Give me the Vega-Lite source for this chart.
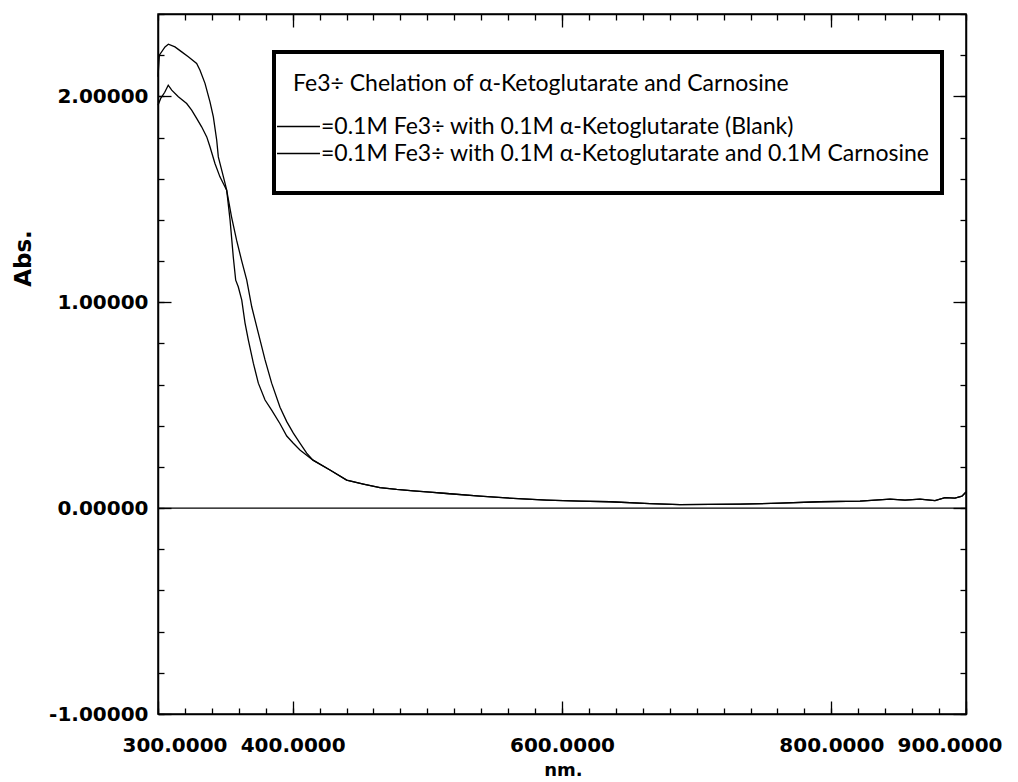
{
  "$schema": "https://vega.github.io/schema/vega-lite/v6.json",
  "width": 808,
  "height": 700,
  "autosize": {"type": "none"},
  "padding": {"left": 158, "top": 14, "right": 52, "bottom": 68},
  "background": "white",
  "config": {
    "view": {"stroke": "black", "strokeWidth": 1.5},
    "axis": {"grid": false, "domainColor": "black", "domainWidth": 1.5, "tickColor": "black", "tickWidth": 1.3, "labelColor": "black", "titleColor": "black", "labelFont": "DejaVu Sans", "labelFontWeight": "bold", "labelFontSize": 20, "titleFont": "DejaVu Sans", "titleFontWeight": "bold", "labelOverlap": false}
  },
  "data": {
    "values": [
      {"nm": 300.0, "abs": 2.095, "s": "=0.1M Fe3÷ with 0.1M α-Ketoglutarate and 0.1M Carnosine"},
      {"nm": 301.0, "abs": 2.20, "s": "=0.1M Fe3÷ with 0.1M α-Ketoglutarate and 0.1M Carnosine"},
      {"nm": 305.2, "abs": 2.24, "s": "=0.1M Fe3÷ with 0.1M α-Ketoglutarate and 0.1M Carnosine"},
      {"nm": 307.7, "abs": 2.253, "s": "=0.1M Fe3÷ with 0.1M α-Ketoglutarate and 0.1M Carnosine"},
      {"nm": 312.6, "abs": 2.24, "s": "=0.1M Fe3÷ with 0.1M α-Ketoglutarate and 0.1M Carnosine"},
      {"nm": 317.6, "abs": 2.216, "s": "=0.1M Fe3÷ with 0.1M α-Ketoglutarate and 0.1M Carnosine"},
      {"nm": 322.5, "abs": 2.192, "s": "=0.1M Fe3÷ with 0.1M α-Ketoglutarate and 0.1M Carnosine"},
      {"nm": 328.7, "abs": 2.16, "s": "=0.1M Fe3÷ with 0.1M α-Ketoglutarate and 0.1M Carnosine"},
      {"nm": 331.2, "abs": 2.127, "s": "=0.1M Fe3÷ with 0.1M α-Ketoglutarate and 0.1M Carnosine"},
      {"nm": 334.9, "abs": 2.063, "s": "=0.1M Fe3÷ with 0.1M α-Ketoglutarate and 0.1M Carnosine"},
      {"nm": 338.6, "abs": 1.973, "s": "=0.1M Fe3÷ with 0.1M α-Ketoglutarate and 0.1M Carnosine"},
      {"nm": 341.1, "abs": 1.90, "s": "=0.1M Fe3÷ with 0.1M α-Ketoglutarate and 0.1M Carnosine"},
      {"nm": 343.6, "abs": 1.787, "s": "=0.1M Fe3÷ with 0.1M α-Ketoglutarate and 0.1M Carnosine"},
      {"nm": 344.8, "abs": 1.706, "s": "=0.1M Fe3÷ with 0.1M α-Ketoglutarate and 0.1M Carnosine"},
      {"nm": 347.3, "abs": 1.642, "s": "=0.1M Fe3÷ with 0.1M α-Ketoglutarate and 0.1M Carnosine"},
      {"nm": 349.8, "abs": 1.577, "s": "=0.1M Fe3÷ with 0.1M α-Ketoglutarate and 0.1M Carnosine"},
      {"nm": 351.0, "abs": 1.544, "s": "=0.1M Fe3÷ with 0.1M α-Ketoglutarate and 0.1M Carnosine"},
      {"nm": 353.5, "abs": 1.40, "s": "=0.1M Fe3÷ with 0.1M α-Ketoglutarate and 0.1M Carnosine"},
      {"nm": 355.9, "abs": 1.22, "s": "=0.1M Fe3÷ with 0.1M α-Ketoglutarate and 0.1M Carnosine"},
      {"nm": 357.7, "abs": 1.107, "s": "=0.1M Fe3÷ with 0.1M α-Ketoglutarate and 0.1M Carnosine"},
      {"nm": 359.6, "abs": 1.075, "s": "=0.1M Fe3÷ with 0.1M α-Ketoglutarate and 0.1M Carnosine"},
      {"nm": 362.2, "abs": 1.01, "s": "=0.1M Fe3÷ with 0.1M α-Ketoglutarate and 0.1M Carnosine"},
      {"nm": 364.6, "abs": 0.90, "s": "=0.1M Fe3÷ with 0.1M α-Ketoglutarate and 0.1M Carnosine"},
      {"nm": 367.1, "abs": 0.816, "s": "=0.1M Fe3÷ with 0.1M α-Ketoglutarate and 0.1M Carnosine"},
      {"nm": 370.8, "abs": 0.704, "s": "=0.1M Fe3÷ with 0.1M α-Ketoglutarate and 0.1M Carnosine"},
      {"nm": 374.5, "abs": 0.607, "s": "=0.1M Fe3÷ with 0.1M α-Ketoglutarate and 0.1M Carnosine"},
      {"nm": 379.5, "abs": 0.525, "s": "=0.1M Fe3÷ with 0.1M α-Ketoglutarate and 0.1M Carnosine"},
      {"nm": 384.4, "abs": 0.476, "s": "=0.1M Fe3÷ with 0.1M α-Ketoglutarate and 0.1M Carnosine"},
      {"nm": 390.6, "abs": 0.41, "s": "=0.1M Fe3÷ with 0.1M α-Ketoglutarate and 0.1M Carnosine"},
      {"nm": 395.6, "abs": 0.35, "s": "=0.1M Fe3÷ with 0.1M α-Ketoglutarate and 0.1M Carnosine"},
      {"nm": 400.5, "abs": 0.315, "s": "=0.1M Fe3÷ with 0.1M α-Ketoglutarate and 0.1M Carnosine"},
      {"nm": 405.4, "abs": 0.282, "s": "=0.1M Fe3÷ with 0.1M α-Ketoglutarate and 0.1M Carnosine"},
      {"nm": 410.4, "abs": 0.257, "s": "=0.1M Fe3÷ with 0.1M α-Ketoglutarate and 0.1M Carnosine"},
      {"nm": 415.1, "abs": 0.233, "s": "=0.1M Fe3÷ with 0.1M α-Ketoglutarate and 0.1M Carnosine"},
      {"nm": 427.7, "abs": 0.185, "s": "=0.1M Fe3÷ with 0.1M α-Ketoglutarate and 0.1M Carnosine"},
      {"nm": 440.1, "abs": 0.136, "s": "=0.1M Fe3÷ with 0.1M α-Ketoglutarate and 0.1M Carnosine"},
      {"nm": 452.5, "abs": 0.117, "s": "=0.1M Fe3÷ with 0.1M α-Ketoglutarate and 0.1M Carnosine"},
      {"nm": 464.8, "abs": 0.10, "s": "=0.1M Fe3÷ with 0.1M α-Ketoglutarate and 0.1M Carnosine"},
      {"nm": 477.2, "abs": 0.091, "s": "=0.1M Fe3÷ with 0.1M α-Ketoglutarate and 0.1M Carnosine"},
      {"nm": 489.6, "abs": 0.084, "s": "=0.1M Fe3÷ with 0.1M α-Ketoglutarate and 0.1M Carnosine"},
      {"nm": 502.0, "abs": 0.078, "s": "=0.1M Fe3÷ with 0.1M α-Ketoglutarate and 0.1M Carnosine"},
      {"nm": 514.4, "abs": 0.071, "s": "=0.1M Fe3÷ with 0.1M α-Ketoglutarate and 0.1M Carnosine"},
      {"nm": 539.1, "abs": 0.058, "s": "=0.1M Fe3÷ with 0.1M α-Ketoglutarate and 0.1M Carnosine"},
      {"nm": 563.8, "abs": 0.047, "s": "=0.1M Fe3÷ with 0.1M α-Ketoglutarate and 0.1M Carnosine"},
      {"nm": 588.6, "abs": 0.039, "s": "=0.1M Fe3÷ with 0.1M α-Ketoglutarate and 0.1M Carnosine"},
      {"nm": 613.4, "abs": 0.034, "s": "=0.1M Fe3÷ with 0.1M α-Ketoglutarate and 0.1M Carnosine"},
      {"nm": 635.6, "abs": 0.031, "s": "=0.1M Fe3÷ with 0.1M α-Ketoglutarate and 0.1M Carnosine"},
      {"nm": 665.3, "abs": 0.022, "s": "=0.1M Fe3÷ with 0.1M α-Ketoglutarate and 0.1M Carnosine"},
      {"nm": 687.6, "abs": 0.017, "s": "=0.1M Fe3÷ with 0.1M α-Ketoglutarate and 0.1M Carnosine"},
      {"nm": 732.2, "abs": 0.019, "s": "=0.1M Fe3÷ with 0.1M α-Ketoglutarate and 0.1M Carnosine"},
      {"nm": 761.9, "abs": 0.024, "s": "=0.1M Fe3÷ with 0.1M α-Ketoglutarate and 0.1M Carnosine"},
      {"nm": 791.6, "abs": 0.031, "s": "=0.1M Fe3÷ with 0.1M α-Ketoglutarate and 0.1M Carnosine"},
      {"nm": 821.3, "abs": 0.034, "s": "=0.1M Fe3÷ with 0.1M α-Ketoglutarate and 0.1M Carnosine"},
      {"nm": 843.6, "abs": 0.044, "s": "=0.1M Fe3÷ with 0.1M α-Ketoglutarate and 0.1M Carnosine"},
      {"nm": 854.7, "abs": 0.039, "s": "=0.1M Fe3÷ with 0.1M α-Ketoglutarate and 0.1M Carnosine"},
      {"nm": 865.8, "abs": 0.044, "s": "=0.1M Fe3÷ with 0.1M α-Ketoglutarate and 0.1M Carnosine"},
      {"nm": 877.0, "abs": 0.036, "s": "=0.1M Fe3÷ with 0.1M α-Ketoglutarate and 0.1M Carnosine"},
      {"nm": 884.4, "abs": 0.051, "s": "=0.1M Fe3÷ with 0.1M α-Ketoglutarate and 0.1M Carnosine"},
      {"nm": 891.8, "abs": 0.049, "s": "=0.1M Fe3÷ with 0.1M α-Ketoglutarate and 0.1M Carnosine"},
      {"nm": 897.0, "abs": 0.058, "s": "=0.1M Fe3÷ with 0.1M α-Ketoglutarate and 0.1M Carnosine"},
      {"nm": 900.0, "abs": 0.078, "s": "=0.1M Fe3÷ with 0.1M α-Ketoglutarate and 0.1M Carnosine"},

      {"nm": 300.0, "abs": 1.957, "s": "=0.1M Fe3÷ with 0.1M α-Ketoglutarate (Blank)"},
      {"nm": 302.0, "abs": 1.99, "s": "=0.1M Fe3÷ with 0.1M α-Ketoglutarate (Blank)"},
      {"nm": 305.0, "abs": 2.02, "s": "=0.1M Fe3÷ with 0.1M α-Ketoglutarate (Blank)"},
      {"nm": 307.6, "abs": 2.054, "s": "=0.1M Fe3÷ with 0.1M α-Ketoglutarate (Blank)"},
      {"nm": 310.2, "abs": 2.03, "s": "=0.1M Fe3÷ with 0.1M α-Ketoglutarate (Blank)"},
      {"nm": 315.1, "abs": 1.998, "s": "=0.1M Fe3÷ with 0.1M α-Ketoglutarate (Blank)"},
      {"nm": 321.3, "abs": 1.965, "s": "=0.1M Fe3÷ with 0.1M α-Ketoglutarate (Blank)"},
      {"nm": 325.0, "abs": 1.933, "s": "=0.1M Fe3÷ with 0.1M α-Ketoglutarate (Blank)"},
      {"nm": 328.7, "abs": 1.893, "s": "=0.1M Fe3÷ with 0.1M α-Ketoglutarate (Blank)"},
      {"nm": 332.4, "abs": 1.852, "s": "=0.1M Fe3÷ with 0.1M α-Ketoglutarate (Blank)"},
      {"nm": 336.2, "abs": 1.803, "s": "=0.1M Fe3÷ with 0.1M α-Ketoglutarate (Blank)"},
      {"nm": 338.6, "abs": 1.755, "s": "=0.1M Fe3÷ with 0.1M α-Ketoglutarate (Blank)"},
      {"nm": 342.3, "abs": 1.674, "s": "=0.1M Fe3÷ with 0.1M α-Ketoglutarate (Blank)"},
      {"nm": 346.0, "abs": 1.609, "s": "=0.1M Fe3÷ with 0.1M α-Ketoglutarate (Blank)"},
      {"nm": 348.5, "abs": 1.577, "s": "=0.1M Fe3÷ with 0.1M α-Ketoglutarate (Blank)"},
      {"nm": 351.0, "abs": 1.544, "s": "=0.1M Fe3÷ with 0.1M α-Ketoglutarate (Blank)"},
      {"nm": 354.6, "abs": 1.415, "s": "=0.1M Fe3÷ with 0.1M α-Ketoglutarate (Blank)"},
      {"nm": 358.4, "abs": 1.30, "s": "=0.1M Fe3÷ with 0.1M α-Ketoglutarate (Blank)"},
      {"nm": 362.2, "abs": 1.20, "s": "=0.1M Fe3÷ with 0.1M α-Ketoglutarate (Blank)"},
      {"nm": 365.9, "abs": 1.107, "s": "=0.1M Fe3÷ with 0.1M α-Ketoglutarate (Blank)"},
      {"nm": 369.6, "abs": 0.978, "s": "=0.1M Fe3÷ with 0.1M α-Ketoglutarate (Blank)"},
      {"nm": 374.5, "abs": 0.85, "s": "=0.1M Fe3÷ with 0.1M α-Ketoglutarate (Blank)"},
      {"nm": 379.5, "abs": 0.72, "s": "=0.1M Fe3÷ with 0.1M α-Ketoglutarate (Blank)"},
      {"nm": 384.4, "abs": 0.607, "s": "=0.1M Fe3÷ with 0.1M α-Ketoglutarate (Blank)"},
      {"nm": 390.6, "abs": 0.49, "s": "=0.1M Fe3÷ with 0.1M α-Ketoglutarate (Blank)"},
      {"nm": 395.6, "abs": 0.42, "s": "=0.1M Fe3÷ with 0.1M α-Ketoglutarate (Blank)"},
      {"nm": 400.5, "abs": 0.364, "s": "=0.1M Fe3÷ with 0.1M α-Ketoglutarate (Blank)"},
      {"nm": 405.4, "abs": 0.316, "s": "=0.1M Fe3÷ with 0.1M α-Ketoglutarate (Blank)"},
      {"nm": 410.4, "abs": 0.267, "s": "=0.1M Fe3÷ with 0.1M α-Ketoglutarate (Blank)"},
      {"nm": 415.1, "abs": 0.233, "s": "=0.1M Fe3÷ with 0.1M α-Ketoglutarate (Blank)"},
      {"nm": 427.7, "abs": 0.185, "s": "=0.1M Fe3÷ with 0.1M α-Ketoglutarate (Blank)"},
      {"nm": 440.1, "abs": 0.136, "s": "=0.1M Fe3÷ with 0.1M α-Ketoglutarate (Blank)"},
      {"nm": 452.5, "abs": 0.117, "s": "=0.1M Fe3÷ with 0.1M α-Ketoglutarate (Blank)"},
      {"nm": 464.8, "abs": 0.10, "s": "=0.1M Fe3÷ with 0.1M α-Ketoglutarate (Blank)"},
      {"nm": 477.2, "abs": 0.091, "s": "=0.1M Fe3÷ with 0.1M α-Ketoglutarate (Blank)"},
      {"nm": 489.6, "abs": 0.084, "s": "=0.1M Fe3÷ with 0.1M α-Ketoglutarate (Blank)"},
      {"nm": 502.0, "abs": 0.078, "s": "=0.1M Fe3÷ with 0.1M α-Ketoglutarate (Blank)"},
      {"nm": 514.4, "abs": 0.071, "s": "=0.1M Fe3÷ with 0.1M α-Ketoglutarate (Blank)"},
      {"nm": 539.1, "abs": 0.058, "s": "=0.1M Fe3÷ with 0.1M α-Ketoglutarate (Blank)"},
      {"nm": 563.8, "abs": 0.047, "s": "=0.1M Fe3÷ with 0.1M α-Ketoglutarate (Blank)"},
      {"nm": 588.6, "abs": 0.039, "s": "=0.1M Fe3÷ with 0.1M α-Ketoglutarate (Blank)"},
      {"nm": 613.4, "abs": 0.034, "s": "=0.1M Fe3÷ with 0.1M α-Ketoglutarate (Blank)"},
      {"nm": 635.6, "abs": 0.031, "s": "=0.1M Fe3÷ with 0.1M α-Ketoglutarate (Blank)"},
      {"nm": 665.3, "abs": 0.022, "s": "=0.1M Fe3÷ with 0.1M α-Ketoglutarate (Blank)"},
      {"nm": 687.6, "abs": 0.017, "s": "=0.1M Fe3÷ with 0.1M α-Ketoglutarate (Blank)"},
      {"nm": 732.2, "abs": 0.019, "s": "=0.1M Fe3÷ with 0.1M α-Ketoglutarate (Blank)"},
      {"nm": 761.9, "abs": 0.024, "s": "=0.1M Fe3÷ with 0.1M α-Ketoglutarate (Blank)"},
      {"nm": 791.6, "abs": 0.031, "s": "=0.1M Fe3÷ with 0.1M α-Ketoglutarate (Blank)"},
      {"nm": 821.3, "abs": 0.034, "s": "=0.1M Fe3÷ with 0.1M α-Ketoglutarate (Blank)"},
      {"nm": 843.6, "abs": 0.044, "s": "=0.1M Fe3÷ with 0.1M α-Ketoglutarate (Blank)"},
      {"nm": 854.7, "abs": 0.039, "s": "=0.1M Fe3÷ with 0.1M α-Ketoglutarate (Blank)"},
      {"nm": 865.8, "abs": 0.044, "s": "=0.1M Fe3÷ with 0.1M α-Ketoglutarate (Blank)"},
      {"nm": 877.0, "abs": 0.036, "s": "=0.1M Fe3÷ with 0.1M α-Ketoglutarate (Blank)"},
      {"nm": 884.4, "abs": 0.051, "s": "=0.1M Fe3÷ with 0.1M α-Ketoglutarate (Blank)"},
      {"nm": 891.8, "abs": 0.049, "s": "=0.1M Fe3÷ with 0.1M α-Ketoglutarate (Blank)"},
      {"nm": 897.0, "abs": 0.058, "s": "=0.1M Fe3÷ with 0.1M α-Ketoglutarate (Blank)"},
      {"nm": 900.0, "abs": 0.078, "s": "=0.1M Fe3÷ with 0.1M α-Ketoglutarate (Blank)"}
    ]
  },
  "resolve": {"axis": {"x": "independent", "y": "independent"}},
  "layer": [
    {
      "mark": {"type": "line", "strokeWidth": 1.3, "interpolate": "linear"},
      "encoding": {
        "x": {"field": "nm", "type": "quantitative",
          "scale": {"domain": [300, 900], "nice": false, "zero": false},
          "axis": {"orient": "bottom", "values": [300, 400, 600, 800, 900], "format": ".4f", "tickSize": -13, "labelPadding": 34, "labelFlush": true, "labelFlushOffset": 36, "title": "nm.", "titleFontSize": 18, "titleX": 405, "titleY": 56, "titleBaseline": "middle", "titleAlign": "center"}},
        "y": {"field": "abs", "type": "quantitative",
          "scale": {"domain": [-1, 2.4], "nice": false, "zero": false},
          "axis": {"orient": "left", "values": [-1, 0, 1, 2], "labelExpr": "replace(format(datum.value, '.5f'), '−', '-')", "tickSize": -13, "labelPadding": 23, "title": "Abs.", "titleFontSize": 23, "titleX": -135, "titleY": 244, "titleAngle": -90, "titleBaseline": "middle", "titleAlign": "center"}},
        "color": {"field": "s", "type": "nominal",
          "scale": {"domain": ["=0.1M Fe3÷ with 0.1M α-Ketoglutarate (Blank)", "=0.1M Fe3÷ with 0.1M α-Ketoglutarate and 0.1M Carnosine"], "range": ["black", "black"]},
          "legend": {
            "title": "Fe3÷ Chelation of α-Ketoglutarate and Carnosine",
            "orient": "none", "legendX": 116, "legendY": 38,
            "symbolType": "M-3,0H3", "symbolSize": 205, "symbolStrokeWidth": 1.3, "symbolStrokeColor": "black", "symbolFillColor": "black",
            "labelFont": "Lato", "labelFontSize": 23, "labelColor": "black", "labelLimit": 2000, "labelOffset": 11,
            "titleFont": "Lato", "titleFontSize": 23, "titleFontWeight": "normal", "titleColor": "black", "titleLimit": 2000, "titlePadding": 28,
            "padding": 12, "rowPadding": 3, "symbolOffset": 1,
            "strokeColor": "black", "fillColor": "white",
            "encode": {
              "legend": {"update": {"strokeWidth": {"value": 4}}},
              "title": {"update": {"dx": {"value": 7}, "dy": {"value": 9}}},
              "symbols": {"update": {"shape": {"signal": "datum.index === 1 ? 'M-3,0H3M0,3.35' : 'M-3,0H3'"}}}
            }
          }}
      }
    },
    {
      "data": {"values": [{"nm": 300, "abs": 0}, {"nm": 900, "abs": 0}]},
      "mark": {"type": "line", "color": "black", "strokeWidth": 1.3},
      "encoding": {
        "x": {"field": "nm", "type": "quantitative",
          "scale": {"domain": [300, 900], "nice": false, "zero": false},
          "axis": {"orient": "bottom", "values": [300, 320, 340, 360, 380, 400, 420, 440, 460, 480, 500, 520, 540, 560, 580, 600, 620, 640, 660, 680, 700, 720, 740, 760, 780, 800, 820, 840, 860, 880, 900], "tickSize": -6, "labels": false, "title": null, "domain": false}},
        "y": {"field": "abs", "type": "quantitative",
          "scale": {"domain": [-1, 2.4], "nice": false, "zero": false},
          "axis": {"orient": "left", "values": [-1, -0.8, -0.6, -0.4, -0.2, 0, 0.2, 0.4, 0.6, 0.8, 1, 1.2, 1.4, 1.6, 1.8, 2, 2.2, 2.4], "tickSize": -6, "labels": false, "title": null, "domain": false}}
      }
    },
    {
      "mark": {"type": "point", "opacity": 0},
      "encoding": {
        "x": {"field": "nm", "type": "quantitative",
          "scale": {"domain": [300, 900], "nice": false, "zero": false},
          "axis": {"orient": "top", "values": [400, 600, 800], "tickSize": -13, "labels": false, "title": null}},
        "y": {"field": "abs", "type": "quantitative",
          "scale": {"domain": [-1, 2.4], "nice": false, "zero": false},
          "axis": {"orient": "right", "values": [-1, 0, 1, 2], "tickSize": -13, "labels": false, "title": null}}
      }
    },
    {
      "mark": {"type": "point", "opacity": 0},
      "encoding": {
        "x": {"field": "nm", "type": "quantitative",
          "scale": {"domain": [300, 900], "nice": false, "zero": false},
          "axis": {"orient": "top", "values": [300, 320, 340, 360, 380, 400, 420, 440, 460, 480, 500, 520, 540, 560, 580, 600, 620, 640, 660, 680, 700, 720, 740, 760, 780, 800, 820, 840, 860, 880, 900], "tickSize": -6, "labels": false, "title": null, "domain": false}},
        "y": {"field": "abs", "type": "quantitative",
          "scale": {"domain": [-1, 2.4], "nice": false, "zero": false},
          "axis": {"orient": "right", "values": [-1, -0.8, -0.6, -0.4, -0.2, 0, 0.2, 0.4, 0.6, 0.8, 1, 1.2, 1.4, 1.6, 1.8, 2, 2.2, 2.4], "tickSize": -6, "labels": false, "title": null, "domain": false}}
      }
    }
  ]
}
